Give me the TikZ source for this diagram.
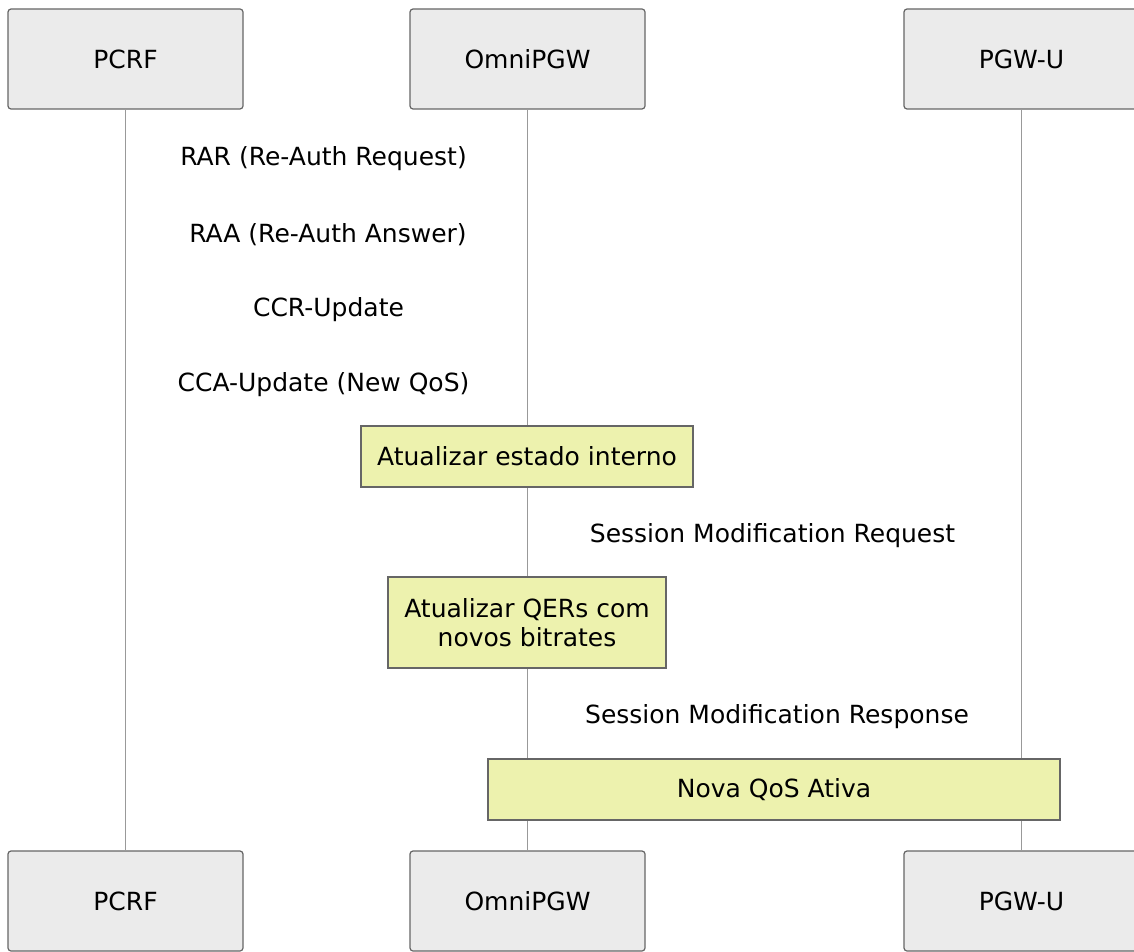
\documentclass[tikz,border=0pt]{standalone}
\usepackage{fontspec}
\setmainfont{DejaVu Sans}
\begin{document}
\begin{tikzpicture}[x=1pt,y=-1pt,
  actor/.style={draw=black!60,fill=black!8,rounded corners=3pt,line width=1.2pt,minimum width=235pt,minimum height=100pt,inner sep=0pt,font=\fontsize{25}{29}\selectfont},
  life/.style={draw=black!40,line width=1pt},
  msg/.style={font=\fontsize{25}{29}\selectfont,inner sep=0pt},
  note/.style={draw=black!60,fill=notefill,line width=1.2pt,inner sep=0pt,align=center,font=\fontsize{25}{28.5}\selectfont}]
\definecolor{notefill}{HTML}{EDF2AE}
\useasboundingbox (0,0) rectangle (1134,952);
% actors top
\node[actor] (pcrf) at (125.5,59) {PCRF};
\node[actor] (omni) at (527.5,59) {OmniPGW};
\node[actor] (pgwu) at (1021.5,59) {PGW-U};
% actors bottom
\node[actor] (pcrfb) at (125.5,901) {PCRF};
\node[actor] (omnib) at (527.5,901) {OmniPGW};
\node[actor] (pgwub) at (1021.5,901) {PGW-U};
% lifelines
\draw[life] (pcrf.south) -- (pcrfb.north);
\draw[life] (omni.south) -- (omnib.north);
\draw[life] (pgwu.south) -- (pgwub.north);
% messages (labels only)
\node[msg] (m1) at (323.5,158.5) {RAR (Re-Auth Request)};
\node[msg] (m2) at (328,234.5) {RAA (Re-Auth Answer)};
\node[msg] (m3) at (328.5,309.5) {CCR-Update};
\node[msg] (m4) at (323.5,384.5) {CCA-Update (New QoS)};
% notes
\node[note,minimum width=332pt,minimum height=61pt] (n1) at (527,456.5) {Atualizar estado interno};
\node[msg] (m5) at (772.5,535.5) {Session Modification Request};
\node[note,minimum width=278pt,minimum height=91pt] (n2) at (527,622.5) {Atualizar QERs com\\novos bitrates};
\node[msg] (m6) at (777,716.5) {Session Modification Response};
\node[note,minimum width=572pt,minimum height=61pt] (n3) at (774,789.5) {Nova QoS Ativa};
\end{tikzpicture}
\end{document}
